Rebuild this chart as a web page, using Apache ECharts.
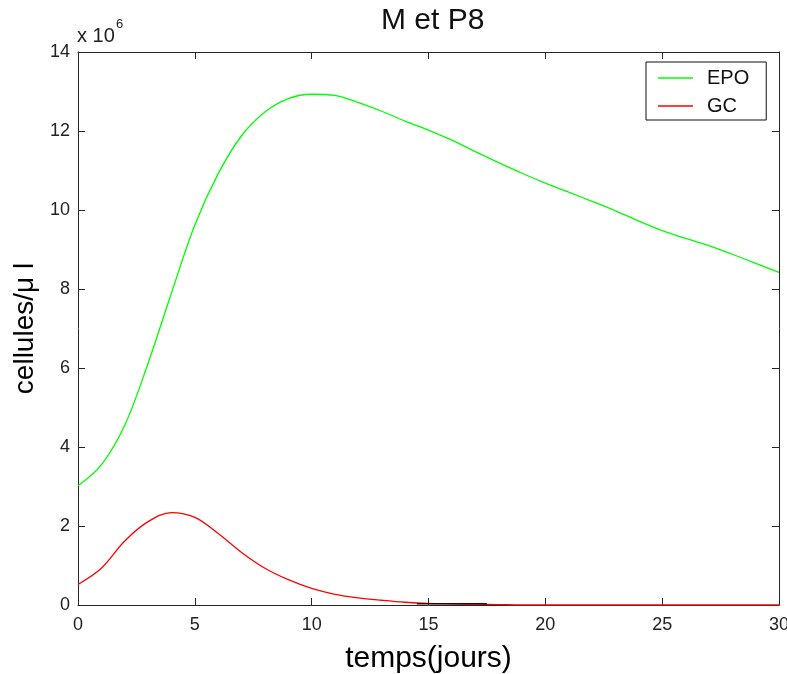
<!DOCTYPE html>
<html>
<head>
<meta charset="utf-8">
<script src="https://cdn.jsdelivr.net/npm/echarts@6/dist/echarts.min.js"></script>
<style>
html,body{margin:0;padding:0;background:#fff;overflow:hidden;}
#chart{width:787px;height:674px;}
</style>
</head>
<body>
<div id="chart"></div>
<script>
// Time in days
const days = [0,1,2,3,4,5,6,7,8,9,10,11,12,13,14,15,16,17,18,19,20,21,22,23,24,25,26,27,28,29,30];
// EPO (x 10^6 cellules/µl)
const epo = [3.02,3.55,4.55,6.12,7.9,9.62,10.92,11.88,12.48,12.82,12.93,12.9,12.72,12.5,12.25,12.02,11.77,11.48,11.2,10.93,10.68,10.45,10.22,9.98,9.72,9.48,9.28,9.1,8.88,8.65,8.42];
// GC (x 10^6 cellules/µl)
const gc = [0.52,0.93,1.62,2.11,2.34,2.22,1.81,1.33,0.93,0.64,0.42,0.27,0.18,0.12,0.07,0.04,0.03,0.02,0.01,0,0,0,0,0,0,0,0,0,0,0,0];
// short dark segment near zero
const darkDays = [14.5, 17.5];
const darkVals = [0.03, 0.03];
// ticks
const xTicks = [0,5,10,15,20,25,30];
const yTicks = [0,2,4,6,8,10,12,14];

const pairs = (xs, ys) => xs.map((x, i) => [x, ys[i]]);
const FONT = 'Arial, "Liberation Sans", sans-serif';
const axisCol = '#262626';

const chart = echarts.init(document.getElementById('chart'), null, {renderer: 'canvas', width: 787, height: 674});
chart.setOption({
  animation: false,
  backgroundColor: '#fff',
  title: {
    text: 'M et P8',
    left: 381,
    top: 6,
    padding: 0,
    textStyle: {fontFamily: FONT, fontSize: 30, fontWeight: 'normal', color: '#111'}
  },
  graphic: [
    {type: 'text', left: 77, top: 26, style: {text: 'x 10', font: '20px ' + FONT, fill: '#222'}},
    {type: 'text', left: 116, top: 18, style: {text: '6', font: '13px ' + FONT, fill: '#222'}}
  ],
  legend: {
    orient: 'vertical',
    left: 646,
    top: 62,
    padding: [2, 17, 0, 12],
    icon: 'path://M0,0 L35,0 L35,1.4 L0,1.4 Z',
    itemWidth: 35,
    itemHeight: 1.4,
    itemGap: 0,
    borderColor: '#111',
    borderWidth: 1,
    backgroundColor: '#fff',
    data: ['EPO', 'GC'],
    textStyle: {fontFamily: FONT, fontSize: 20, color: '#111', lineHeight: 28, padding: [0, 0, 0, 9]}
  },
  grid: {left: 78, right: 8, top: 52, bottom: 69, containLabel: false, outerBoundsMode: 'none'},
  xAxis: [
    {
      type: 'value', min: 0, max: 30, interval: 5, position: 'bottom',
      name: 'temps(jours)', nameLocation: 'middle', nameGap: 39,
      nameTextStyle: {fontFamily: FONT, fontSize: 30, color: '#000'},
      axisLine: {show: true, onZero: false, lineStyle: {color: axisCol, width: 1}},
      axisTick: {show: true, inside: true, length: 7, lineStyle: {color: axisCol}},
      axisLabel: {fontFamily: FONT, fontSize: 18, color: '#222', margin: 11,
                  formatter: v => xTicks.includes(v) ? String(v) : ''},
      splitLine: {show: false}
    },
    {
      type: 'value', min: 0, max: 30, interval: 5, position: 'top',
      axisLine: {show: true, onZero: false, lineStyle: {color: axisCol, width: 1}},
      axisTick: {show: true, inside: true, length: 7, lineStyle: {color: axisCol}},
      axisLabel: {show: false}, splitLine: {show: false}
    }
  ],
  yAxis: [
    {
      type: 'value', min: 0, max: 14, interval: 2, position: 'left',
      name: 'cellules/\u03bc l', nameLocation: 'middle', nameGap: 38, nameRotate: 90,
      nameTextStyle: {fontFamily: FONT, fontSize: 28, color: '#000'},
      axisLine: {show: true, onZero: false, lineStyle: {color: axisCol, width: 1}},
      axisTick: {show: true, inside: true, length: 7, lineStyle: {color: axisCol}},
      axisLabel: {fontFamily: FONT, fontSize: 18, color: '#222', margin: 8,
                  formatter: v => yTicks.includes(v) ? String(v) : ''},
      splitLine: {show: false}
    },
    {
      type: 'value', min: 0, max: 14, interval: 2, position: 'right',
      axisLine: {show: true, onZero: false, lineStyle: {color: axisCol, width: 1}},
      axisTick: {show: true, inside: true, length: 7, lineStyle: {color: axisCol}},
      axisLabel: {show: false}, splitLine: {show: false}
    }
  ],
  series: [
    {name: 'EPO', type: 'line', data: pairs(days, epo), symbol: 'none', smooth: 0.35,
     lineStyle: {color: '#00ff00', width: 1.3}, itemStyle: {color: '#00ff00'}, z: 3},
    {name: 'GC', type: 'line', data: pairs(days, gc), symbol: 'none', smooth: 0.35,
     lineStyle: {color: '#ff0000', width: 1.3}, itemStyle: {color: '#ff0000'}, z: 3},
    {name: 'dark', type: 'line', data: pairs(darkDays, darkVals), symbol: 'none',
     lineStyle: {color: '#3a0000', width: 1.5}, z: 4}
  ]
});
</script>
</body>
</html>
